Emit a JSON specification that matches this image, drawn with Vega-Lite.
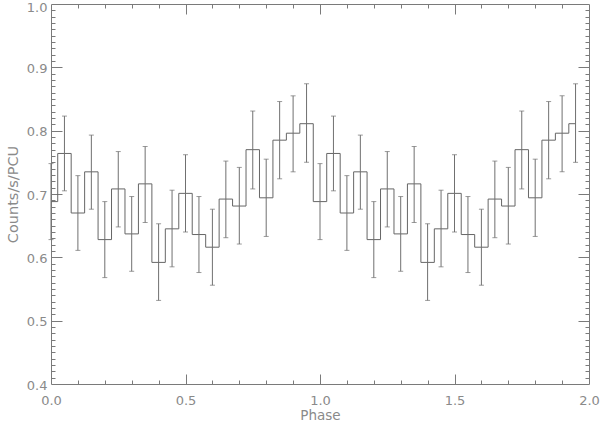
{
  "$schema": "https://vega.github.io/schema/vega-lite/v6.json",
  "width": 538,
  "height": 380,
  "autosize": {"type": "none"},
  "padding": {"left": 51, "top": 4, "right": 11, "bottom": 39},
  "background": "white",
  "config": {
    "view": {"stroke": "#7a7a7a", "strokeWidth": 1},
    "axis": {
      "grid": false, "domain": false, "tickColor": "#7a7a7a", "tickWidth": 1,
      "labelColor": "#8a8a8a", "labelFont": "DejaVu Sans", "labelFontSize": 13,
      "titleColor": "#8a8a8a", "titleFont": "DejaVu Sans", "titleFontSize": 13.5, "titleFontWeight": "normal"
    }
  },
  "data": {"values": [
    {"phase": 0.00, "rate": 0.688, "lo": 0.628, "hi": 0.748},
    {"phase": 0.05, "rate": 0.764, "lo": 0.705, "hi": 0.823},
    {"phase": 0.10, "rate": 0.670, "lo": 0.611, "hi": 0.729},
    {"phase": 0.15, "rate": 0.735, "lo": 0.676, "hi": 0.793},
    {"phase": 0.20, "rate": 0.628, "lo": 0.568, "hi": 0.688},
    {"phase": 0.25, "rate": 0.708, "lo": 0.648, "hi": 0.767},
    {"phase": 0.30, "rate": 0.637, "lo": 0.578, "hi": 0.696},
    {"phase": 0.35, "rate": 0.716, "lo": 0.655, "hi": 0.775},
    {"phase": 0.40, "rate": 0.592, "lo": 0.532, "hi": 0.653},
    {"phase": 0.45, "rate": 0.645, "lo": 0.585, "hi": 0.706},
    {"phase": 0.50, "rate": 0.701, "lo": 0.640, "hi": 0.762},
    {"phase": 0.55, "rate": 0.636, "lo": 0.576, "hi": 0.696},
    {"phase": 0.60, "rate": 0.616, "lo": 0.556, "hi": 0.676},
    {"phase": 0.65, "rate": 0.692, "lo": 0.631, "hi": 0.752},
    {"phase": 0.70, "rate": 0.681, "lo": 0.621, "hi": 0.742},
    {"phase": 0.75, "rate": 0.770, "lo": 0.708, "hi": 0.831},
    {"phase": 0.80, "rate": 0.694, "lo": 0.633, "hi": 0.755},
    {"phase": 0.85, "rate": 0.785, "lo": 0.724, "hi": 0.846},
    {"phase": 0.90, "rate": 0.796, "lo": 0.735, "hi": 0.855},
    {"phase": 0.95, "rate": 0.811, "lo": 0.750, "hi": 0.874},
    {"phase": 1.00, "rate": 0.688, "lo": 0.628, "hi": 0.748},
    {"phase": 1.05, "rate": 0.764, "lo": 0.705, "hi": 0.823},
    {"phase": 1.10, "rate": 0.670, "lo": 0.611, "hi": 0.729},
    {"phase": 1.15, "rate": 0.735, "lo": 0.676, "hi": 0.793},
    {"phase": 1.20, "rate": 0.628, "lo": 0.568, "hi": 0.688},
    {"phase": 1.25, "rate": 0.708, "lo": 0.648, "hi": 0.767},
    {"phase": 1.30, "rate": 0.637, "lo": 0.578, "hi": 0.696},
    {"phase": 1.35, "rate": 0.716, "lo": 0.655, "hi": 0.775},
    {"phase": 1.40, "rate": 0.592, "lo": 0.532, "hi": 0.653},
    {"phase": 1.45, "rate": 0.645, "lo": 0.585, "hi": 0.706},
    {"phase": 1.50, "rate": 0.701, "lo": 0.640, "hi": 0.762},
    {"phase": 1.55, "rate": 0.636, "lo": 0.576, "hi": 0.696},
    {"phase": 1.60, "rate": 0.616, "lo": 0.556, "hi": 0.676},
    {"phase": 1.65, "rate": 0.692, "lo": 0.631, "hi": 0.752},
    {"phase": 1.70, "rate": 0.681, "lo": 0.621, "hi": 0.742},
    {"phase": 1.75, "rate": 0.770, "lo": 0.708, "hi": 0.831},
    {"phase": 1.80, "rate": 0.694, "lo": 0.633, "hi": 0.755},
    {"phase": 1.85, "rate": 0.785, "lo": 0.724, "hi": 0.846},
    {"phase": 1.90, "rate": 0.796, "lo": 0.735, "hi": 0.855},
    {"phase": 1.95, "rate": 0.811, "lo": 0.750, "hi": 0.874}
  ]},
  "resolve": {"axis": {"x": "independent", "y": "independent"}},
  "layer": [
    {
      "mark": {"type": "line", "interpolate": "step", "color": "#666666", "strokeWidth": 1, "clip": true},
      "encoding": {
        "x": {"field": "phase", "type": "quantitative", "scale": {"domain": [0, 2], "nice": false, "zero": false},
              "axis": {"orient": "bottom", "values": [0, 0.5, 1, 1.5, 2], "format": ".1f", "ticks": false, "labelPadding": 10, "title": "Phase", "titlePadding": 1, "labelFlush": false}},
        "y": {"field": "rate", "type": "quantitative", "scale": {"domain": [0.4, 1.0], "nice": false, "zero": false},
              "axis": {"orient": "left", "values": [0.4, 0.5, 0.6, 0.7, 0.8, 0.9, 1.0], "format": ".1f", "ticks": false, "labelPadding": 4, "title": "Counts/s/PCU", "titleFontSize": 14.5, "titlePadding": 6, "labelFlush": false,
                       "labelOffset": {"condition": {"test": "datum.value >= 0.99", "value": 3.5}, "value": 1}}}
      }
    },
    {
      "mark": {"type": "rule", "color": "#707070", "strokeWidth": 1},
      "encoding": {
        "x": {"field": "phase", "type": "quantitative",
              "axis": {"orient": "bottom", "values": [0.5, 1, 1.5], "labels": false, "tickSize": 10, "offset": -10, "title": null}},
        "y": {"field": "lo", "type": "quantitative",
              "axis": {"orient": "left", "values": [0.5, 0.6, 0.7, 0.8, 0.9], "labels": false, "tickSize": 11, "offset": -11, "title": null}},
        "y2": {"field": "hi"}
      }
    },
    {
      "mark": {"type": "tick", "orient": "horizontal", "color": "#707070", "size": 5, "thickness": 1},
      "encoding": {
        "x": {"field": "phase", "type": "quantitative",
              "axis": {"orient": "bottom", "values": [0.1, 0.2, 0.3, 0.4, 0.6, 0.7, 0.8, 0.9, 1.1, 1.2, 1.3, 1.4, 1.6, 1.7, 1.8, 1.9], "labels": false, "tickSize": 4, "offset": -4, "title": null}},
        "y": {"field": "lo", "type": "quantitative",
              "axis": {"orient": "left", "values": [0.41,0.42,0.43,0.44,0.45,0.46,0.47,0.48,0.49,0.51,0.52,0.53,0.54,0.55,0.56,0.57,0.58,0.59,0.61,0.62,0.63,0.64,0.65,0.66,0.67,0.68,0.69,0.71,0.72,0.73,0.74,0.75,0.76,0.77,0.78,0.79,0.81,0.82,0.83,0.84,0.85,0.86,0.87,0.88,0.89,0.91,0.92,0.93,0.94,0.95,0.96,0.97,0.98,0.99], "labels": false, "tickSize": 4, "offset": -4, "title": null}}
      }
    },
    {
      "mark": {"type": "tick", "orient": "horizontal", "color": "#707070", "size": 5, "thickness": 1},
      "encoding": {
        "x": {"field": "phase", "type": "quantitative",
              "axis": {"orient": "top", "values": [0.5, 1, 1.5], "labels": false, "tickSize": 10, "offset": -10, "title": null}},
        "y": {"field": "hi", "type": "quantitative",
              "axis": {"orient": "right", "values": [0.5, 0.6, 0.7, 0.8, 0.9], "labels": false, "tickSize": 11, "offset": -11, "title": null}}
      }
    },
    {
      "mark": {"type": "point", "opacity": 0},
      "encoding": {
        "x": {"field": "phase", "type": "quantitative",
              "axis": {"orient": "top", "values": [0.1, 0.2, 0.3, 0.4, 0.6, 0.7, 0.8, 0.9, 1.1, 1.2, 1.3, 1.4, 1.6, 1.7, 1.8, 1.9], "labels": false, "tickSize": 4, "offset": -4, "title": null}},
        "y": {"field": "rate", "type": "quantitative",
              "axis": {"orient": "right", "values": [0.41,0.42,0.43,0.44,0.45,0.46,0.47,0.48,0.49,0.51,0.52,0.53,0.54,0.55,0.56,0.57,0.58,0.59,0.61,0.62,0.63,0.64,0.65,0.66,0.67,0.68,0.69,0.71,0.72,0.73,0.74,0.75,0.76,0.77,0.78,0.79,0.81,0.82,0.83,0.84,0.85,0.86,0.87,0.88,0.89,0.91,0.92,0.93,0.94,0.95,0.96,0.97,0.98,0.99], "labels": false, "tickSize": 4, "offset": -4, "title": null}}
      }
    }
  ]
}
